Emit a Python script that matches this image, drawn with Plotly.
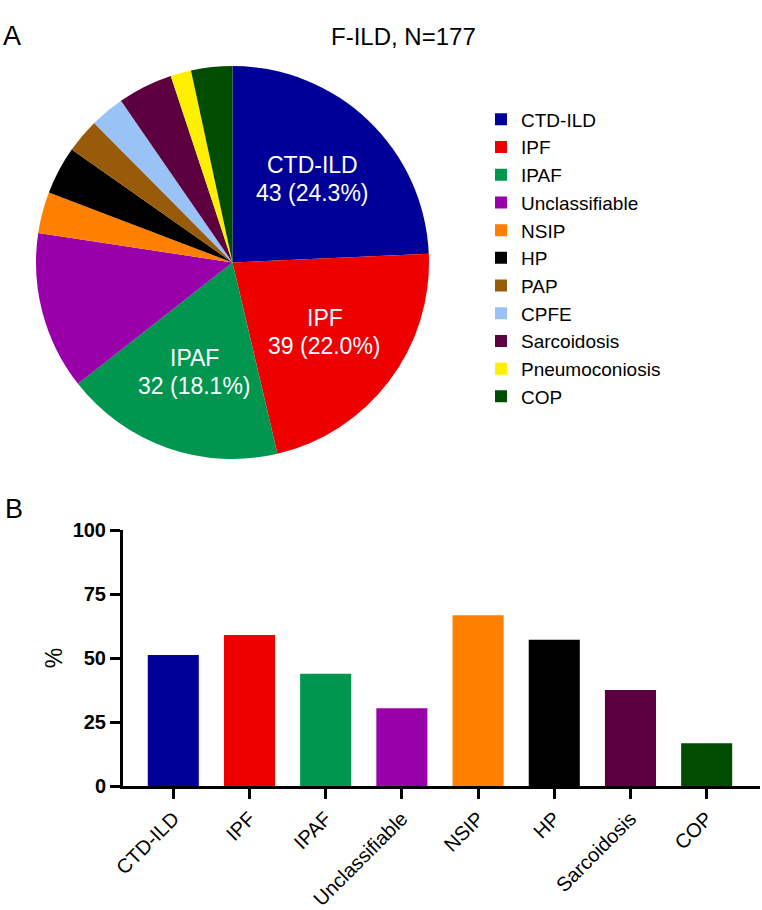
import math
import plotly.graph_objects as go

# ---- data ----
pie_labels = ["CTD-ILD", "IPF", "IPAF", "Unclassifiable", "NSIP", "HP", "PAP",
              "CPFE", "Sarcoidosis", "Pneumoconiosis", "COP"]
pie_counts = [43, 39, 32, 23, 6, 7, 5, 5, 8, 3, 6]
pie_colors = ["#000099", "#EE0000", "#00964F", "#9900AA", "#FF8000", "#000000",
              "#985B0A", "#99C2F7", "#5C0040", "#FFF000", "#004C00"]

bar_categories = ["CTD-ILD", "IPF", "IPAF", "Unclassifiable", "NSIP", "HP",
                  "Sarcoidosis", "COP"]
bar_pct = [51.2, 59.0, 43.8, 30.4, 66.7, 57.1, 37.5, 16.7]
bar_colors = ["#000099", "#EE0000", "#00964F", "#9900AA", "#FF8000", "#000000",
              "#5C0040", "#004C00"]
y_ticks = [0, 25, 50, 75, 100]

W, H = 762, 910
FONT = "Arial, Liberation Sans, sans-serif"


def px(x):
    return x / W


def py(y):
    return 1 - y / H


# pie geometry (layout, pixels)
PIE_L, PIE_R, PIE_T, PIE_B = 35, 430, 66, 459
CX, CY = (PIE_L + PIE_R) / 2, (PIE_T + PIE_B) / 2
RAD = (PIE_B - PIE_T) / 2
LABEL_FRAC = 0.59
LINE_GAP = 14

fig = go.Figure()
fig.add_trace(go.Pie(
    labels=pie_labels, values=pie_counts, sort=False, direction="clockwise",
    rotation=0,
    marker=dict(colors=pie_colors, line=dict(width=0)),
    textinfo="none",
    hoverinfo="label+value+percent",
    domain=dict(x=[px(PIE_L), px(PIE_R)], y=[py(PIE_B), py(PIE_T)]),
    showlegend=True,
))

fig.add_trace(go.Bar(
    x=bar_categories, y=bar_pct, marker=dict(color=bar_colors, line=dict(width=0)),
    width=0.67, showlegend=False, xaxis="x", yaxis="y",
))

# in-slice labels for the big slices, placed at the slice mid-angle
total = sum(pie_counts)
annotations = []
cum = 0
for lab, c in zip(pie_labels, pie_counts):
    if c >= 30:
        theta = 2 * math.pi * (cum + c / 2) / total
        lx = CX + LABEL_FRAC * RAD * math.sin(theta)
        ly = CY - LABEL_FRAC * RAD * math.cos(theta)
        for txt, dy in ((lab, -LINE_GAP), (f"{c} ({100 * c / total:.1f}%)", LINE_GAP)):
            annotations.append(dict(
                text=txt, x=px(lx), y=py(ly + dy), xref="paper", yref="paper",
                xanchor="center", yanchor="middle", showarrow=False,
                font=dict(size=23, family=FONT, color="white")))
    cum += c

annotations += [
    dict(text="F-ILD, N=177", x=px(403), y=py(21), xref="paper", yref="paper",
         showarrow=False, font=dict(size=24, family=FONT)),
    dict(text="A", x=px(1), y=py(19), xref="paper", yref="paper",
         xanchor="left", showarrow=False, font=dict(size=27, family=FONT)),
    dict(text="B", x=px(3), y=py(509), xref="paper", yref="paper",
         xanchor="left", showarrow=False, font=dict(size=27, family=FONT)),
]

fig.update_layout(
    width=W, height=H, margin=dict(l=0, r=0, t=0, b=0),
    paper_bgcolor="white", plot_bgcolor="white",
    font=dict(family=FONT, color="black"),
    legend=dict(x=px(481), y=py(258), xanchor="left", yanchor="middle",
                font=dict(size=19, family=FONT), itemclick=False,
                tracegroupgap=0),
    xaxis=dict(domain=[px(123), px(760)], range=[-0.66, 7.7],
               showline=True, linecolor="black", linewidth=3,
               ticks="outside", ticklen=10, tickwidth=3, tickcolor="black",
               tickangle=-45, tickfont=dict(size=20, family=FONT),
               showgrid=False, zeroline=False, automargin=False),
    yaxis=dict(domain=[py(786), py(530)], range=[0, 100], tickvals=y_ticks,
               showline=True, linecolor="black", linewidth=3,
               ticks="outside", ticklen=10, tickwidth=3, tickcolor="black",
               tickfont=dict(size=20, family=FONT, weight="bold"),
               title=dict(text="%", font=dict(size=23, family=FONT), standoff=4),
               showgrid=False, zeroline=False, automargin=False),
    annotations=annotations,
)

fig.write_html("out.html", config={"displayModeBar": False},
               post_script="document.body.style.margin='0';")
